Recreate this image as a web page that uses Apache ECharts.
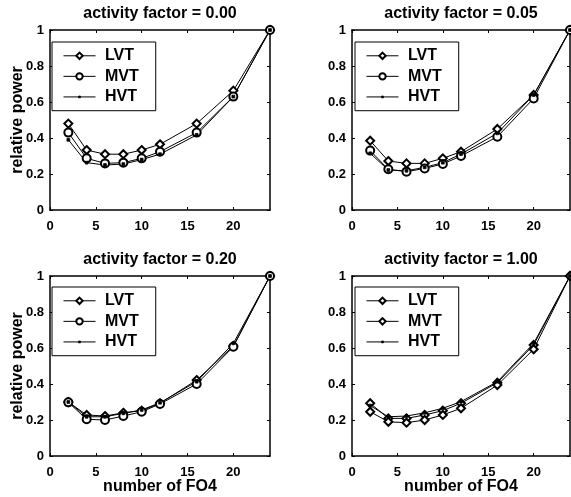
<html>
<head>
    <script src="https://cdn.jsdelivr.net/npm/echarts@6/dist/echarts.min.js"></script>
    <style>
        body { margin: 0; background: #fff; }
        #chart { width: 571px; height: 497px; }
    </style>
</head>
<body>
    <div id="chart"></div>
    <script>
        const fo4 = [2, 4, 6, 8, 10, 12, 16, 20, 24];
        const factors = ['0.00', '0.05', '0.20', '1.00'];

        const lvt000 = [0.48, 0.333, 0.31, 0.31, 0.333, 0.365, 0.48, 0.663, 1.0];
        const mvt000 = [0.43, 0.287, 0.259, 0.263, 0.287, 0.324, 0.43, 0.63, 1.0];
        const hvt000 = [0.39, 0.263, 0.25, 0.255, 0.28, 0.31, 0.417, 0.63, 1.0];

        const lvt005 = [0.385, 0.272, 0.259, 0.259, 0.287, 0.324, 0.45, 0.639, 1.0];
        const mvt005 = [0.33, 0.226, 0.213, 0.231, 0.256, 0.30, 0.407, 0.62, 1.0];
        const hvt005 = [0.315, 0.222, 0.218, 0.237, 0.263, 0.311, 0.426, 0.639, 1.0];

        const lvt020 = [0.30, 0.228, 0.222, 0.24, 0.252, 0.293, 0.422, 0.611, 1.0];
        const mvt020 = [0.298, 0.204, 0.20, 0.222, 0.246, 0.289, 0.40, 0.607, 1.0];
        const hvt020 = [0.30, 0.218, 0.218, 0.237, 0.256, 0.296, 0.413, 0.626, 1.0];

        const lvt100 = [0.293, 0.209, 0.209, 0.228, 0.252, 0.293, 0.407, 0.617, 1.0];
        const mvt100 = [0.246, 0.19, 0.185, 0.20, 0.228, 0.265, 0.394, 0.593, 1.0];
        const hvt100 = [0.28, 0.218, 0.222, 0.24, 0.265, 0.302, 0.413, 0.626, 1.0];

        // small dot inside an empty 10x10 box, so the legend draws it small too
        const dot = 'path://M0,0 M10,10 M3.6,3.6 L6.4,3.6 L6.4,6.4 L3.6,6.4 Z';

        const panels = [
            { lvt: lvt000, mvt: mvt000, hvt: hvt000, mvtSymbol: 'emptyCircle' },
            { lvt: lvt005, mvt: mvt005, hvt: hvt005, mvtSymbol: 'emptyCircle' },
            { lvt: lvt020, mvt: mvt020, hvt: hvt020, mvtSymbol: 'emptyCircle' },
            // the original figure marks MVT with diamonds in this panel
            { lvt: lvt100, mvt: mvt100, hvt: hvt100, mvtSymbol: 'emptyDiamond' }
        ];

        const font = 'Liberation Sans, Arial, Helvetica, sans-serif';
        const grids = [
            { left: 50, top: 30, width: 220, height: 180 },
            { left: 352, top: 30, width: 218, height: 180 },
            { left: 50, top: 276, width: 220, height: 180 },
            { left: 352, top: 276, width: 218, height: 180 }
        ].map(g => Object.assign({ outerBoundsMode: 'none', containLabel: false }, g));
        const legendPos = [[52, 42], [355, 42], [52, 287], [355, 287]];

        const chart = echarts.init(document.getElementById('chart'));

        const xAxes = [], yAxes = [], series = [], legends = [];
        const axisLine = { show: true, onZero: false, lineStyle: { color: '#000', width: 1.5 } };
        const tick = { show: true, inside: true, length: 3, lineStyle: { color: '#000', width: 1 } };
        const labelStyle = { color: '#000', fontWeight: 'bold', fontSize: 13, fontFamily: font };
        const nameStyle = { color: '#000', fontWeight: 'bold', fontSize: 16, fontFamily: font };

        panels.forEach((p, i) => {
            const bottomRow = i >= 2;
            const leftCol = i % 2 === 0;
            xAxes.push({
                gridIndex: i, type: 'value', position: 'bottom',
                min: 0, max: 24, interval: 5,
                axisLine: axisLine, axisTick: tick, splitLine: { show: false },
                axisLabel: Object.assign({ margin: 5, showMaxLabel: false }, labelStyle),
                name: bottomRow ? 'number of FO4' : '',
                nameLocation: 'middle', nameGap: 17, nameMoveOverlap: false,
                nameTextStyle: nameStyle
            });
            xAxes.push({
                gridIndex: i, type: 'value', position: 'top',
                min: 0, max: 24, interval: 5,
                axisLine: axisLine, axisTick: tick, splitLine: { show: false },
                axisLabel: { show: false },
                name: 'activity factor = ' + factors[i],
                nameLocation: 'middle', nameGap: 3, nameMoveOverlap: false,
                nameTextStyle: nameStyle
            });
            yAxes.push({
                gridIndex: i, type: 'value', position: 'left',
                min: 0, max: 1, interval: 0.2,
                axisLine: axisLine, axisTick: tick, splitLine: { show: false },
                axisLabel: Object.assign({ margin: 6 }, labelStyle),
                name: leftCol ? 'relative power' : '',
                nameLocation: 'middle', nameGap: 19, nameMoveOverlap: false,
                nameTextStyle: nameStyle
            });
            yAxes.push({
                gridIndex: i, type: 'value', position: 'right',
                min: 0, max: 1, interval: 0.2,
                axisLine: axisLine, axisTick: tick, splitLine: { show: false },
                axisLabel: { show: false }
            });

            const defs = [
                ['LVT', p.lvt, 'emptyDiamond', 8],
                ['MVT', p.mvt, p.mvtSymbol, 8],
                ['HVT', p.hvt, dot, 10]
            ];
            const names = [];
            defs.forEach(([name, vals, sym, size]) => {
                const id = name + '-' + i;
                names.push(id);
                series.push({
                    name: id, type: 'line',
                    xAxisIndex: i * 2, yAxisIndex: i * 2,
                    data: fo4.map((x, k) => [x, vals[k]]),
                    symbol: sym, symbolSize: size, showAllSymbol: true,
                    lineStyle: { color: '#000', width: 1 },
                    itemStyle: { color: '#000', borderColor: '#000', borderWidth: 0.8 },
                    animation: false, z: 3
                });
            });
            legends.push({
                data: names, orient: 'vertical',
                left: legendPos[i][0], top: legendPos[i][1],
                itemWidth: 32, itemHeight: 8, itemGap: -7,
                padding: [0, 17, 0, 11],
                borderColor: '#000', borderWidth: 1, backgroundColor: '#fff',
                selectedMode: false,
                lineStyle: { width: 1 },
                itemStyle: { borderWidth: 0.8 },
                formatter: (n) => ' ' + n.split('-')[0],
                textStyle: { color: '#000', fontWeight: 'bold', fontSize: 16, fontFamily: font }
            });
        });

        chart.setOption({
            animation: false,
            grid: grids,
            xAxis: xAxes,
            yAxis: yAxes,
            legend: legends,
            series: series
        });
    </script>
</body>
</html>
